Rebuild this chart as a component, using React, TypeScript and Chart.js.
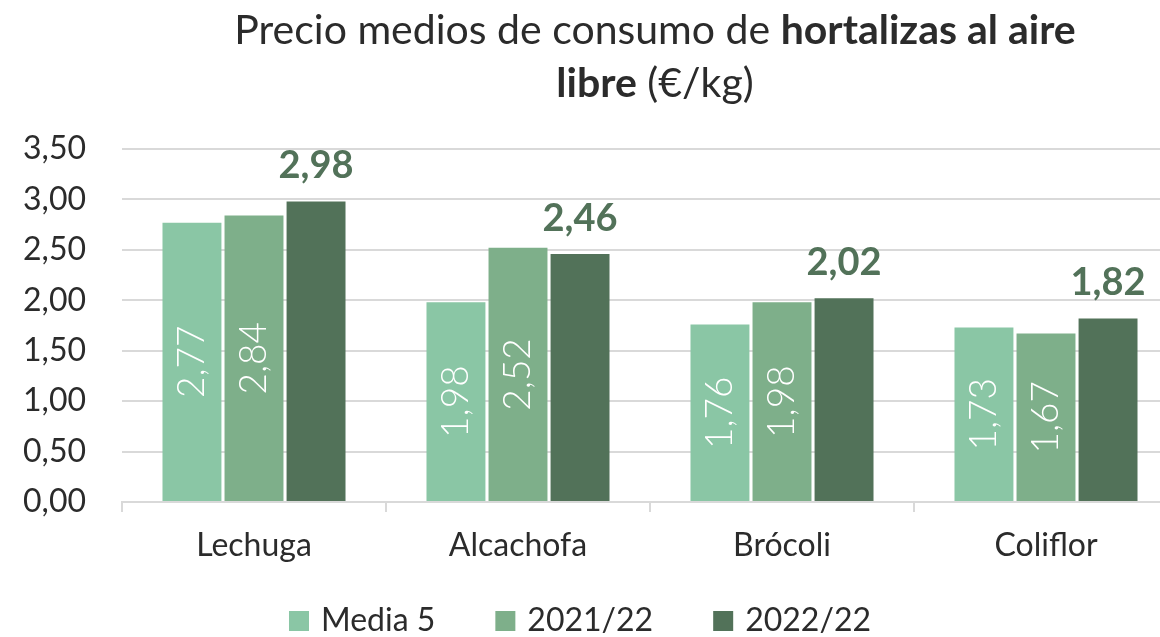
import React, { useEffect, useRef } from "react";
import { Chart, registerables } from "chart.js";

Chart.register(...registerables);

const categories = ["Lechuga", "Alcachofa", "Brócoli", "Coliflor"];
const seriesNames = ["Media 5", "2021/22", "2022/22"];
const media5 = [2.77, 1.98, 1.76, 1.73];
const campaign2122 = [2.84, 2.52, 1.98, 1.67];
const campaign2222 = [2.98, 2.46, 2.02, 1.82];
const colors = ["#8AC6A5", "#7EAF8A", "#527259"];
const yMin = 0;
const yMax = 3.5;
const yStep = 0.5;

const FONT = "Lato";
const TEXT = "#2b2b2b";
const GRID = "#d9d9d9";
const VISIBLE_W = 1160;

const fmt = (v: number) => v.toFixed(2).replace(".", ",");

const titlePlugin = {
  id: "mixedTitle",
  afterDraw(chart: any) {
    const ctx = chart.ctx;
    const cx = (chart.chartArea.left + chart.chartArea.right) / 2 + 5;
    const size = 41;
    const lines = [
      [
        { t: "Precio medios de consumo de ", b: false },
        { t: "hortalizas al aire", b: true },
      ],
      [
        { t: "libre", b: true },
        { t: " (€/kg)", b: false },
      ],
    ];
    const baselines = [44, 97];
    ctx.save();
    ctx.fillStyle = TEXT;
    ctx.textBaseline = "alphabetic";
    ctx.textAlign = "left";
    lines.forEach((parts, i) => {
      let total = 0;
      const widths = parts.map((p) => {
        ctx.font = `${p.b ? "bold " : ""}${size}px ${FONT}`;
        const w = ctx.measureText(p.t).width;
        total += w;
        return w;
      });
      let x = cx - total / 2;
      parts.forEach((p, j) => {
        ctx.font = `${p.b ? "bold " : ""}${size}px ${FONT}`;
        ctx.fillText(p.t, x, baselines[i]);
        x += widths[j];
      });
    });
    ctx.restore();
  },
};

const labelsPlugin = {
  id: "barLabels",
  afterDatasetsDraw(chart: any) {
    const ctx = chart.ctx;
    ctx.save();
    chart.data.datasets.forEach((ds: any, di: number) => {
      const meta = chart.getDatasetMeta(di);
      meta.data.forEach((bar: any, i: number) => {
        const v = ds.data[i] as number;
        const txt = fmt(v);
        if (di < 2) {
          ctx.save();
          ctx.translate(bar.x, (bar.y + bar.base) / 2);
          ctx.rotate(-Math.PI / 2);
          ctx.font = `300 37px ${FONT}`;
          ctx.fillStyle = "#ffffff";
          ctx.textAlign = "center";
          ctx.textBaseline = "middle";
          ctx.fillText(txt, 0, 0);
          ctx.restore();
        } else {
          ctx.font = `bold 38px ${FONT}`;
          ctx.fillStyle = colors[2];
          ctx.textAlign = "center";
          ctx.textBaseline = "alphabetic";
          ctx.fillText(txt, bar.x, bar.y - 23);
        }
      });
    });
    ctx.restore();
  },
};

const legendPlugin = {
  id: "customLegend",
  afterDraw(chart: any) {
    const ctx = chart.ctx;
    const box = 20;
    const gapBoxText = 12;
    const gapItems = 60;
    const cy = 621;
    ctx.save();
    ctx.font = `32px ${FONT}`;
    const widths = seriesNames.map((n) => ctx.measureText(n).width);
    const total =
      widths.reduce((a, b) => a + b, 0) +
      seriesNames.length * (box + gapBoxText) +
      (seriesNames.length - 1) * gapItems;
    let x = VISIBLE_W / 2 - total / 2;
    seriesNames.forEach((n, i) => {
      ctx.fillStyle = colors[i];
      ctx.fillRect(x, cy - box / 2, box, box);
      x += box + gapBoxText;
      ctx.fillStyle = TEXT;
      ctx.textAlign = "left";
      ctx.textBaseline = "middle";
      ctx.fillText(n, x, cy);
      x += widths[i] + gapItems;
    });
    ctx.restore();
  },
};

export default function App() {
  const ref = useRef<HTMLCanvasElement | null>(null);

  useEffect(() => {
    if (!ref.current) return;
    const chart = new Chart(ref.current, {
      type: "bar",
      data: {
        labels: categories,
        datasets: [media5, campaign2122, campaign2222].map((d, i) => ({
          label: seriesNames[i],
          data: d,
          backgroundColor: colors[i],
          borderWidth: 0,
          barPercentage: 0.95,
          categoryPercentage: 0.705,
        })),
      },
      options: {
        animation: false,
        responsive: false,
        devicePixelRatio: 1,
        layout: { padding: { top: 149, bottom: 75, left: 0, right: 2 } },
        plugins: {
          legend: { display: false },
          title: { display: false },
          tooltip: { enabled: false },
        },
        scales: {
          x: {
            afterFit: (s: any) => {
              s.height = 60;
            },
            grid: {
              display: true,
              drawOnChartArea: false,
              drawTicks: true,
              tickLength: 10,
              color: GRID,
              lineWidth: 2,
              offset: true,
            },
            border: { display: true, color: GRID, width: 2 },
            ticks: {
              color: TEXT,
              font: { family: FONT, size: 32 },
              padding: 14,
            },
          },
          y: {
            min: yMin,
            max: yMax,
            afterFit: (s: any) => {
              s.width = 122;
            },
            grid: { color: GRID, lineWidth: 2, drawTicks: false },
            border: { display: false },
            ticks: {
              stepSize: yStep,
              color: TEXT,
              font: { family: FONT, size: 32 },
              padding: 36,
              callback: (v: any) => fmt(Number(v)),
            },
          },
        },
      },
      plugins: [titlePlugin, labelsPlugin, legendPlugin],
    });
    return () => chart.destroy();
  }, []);

  return (
    <div
      style={{
        position: "fixed",
        left: 0,
        top: 0,
        width: VISIBLE_W,
        height: 637,
        overflow: "hidden",
        background: "#ffffff",
      }}
    >
      <canvas ref={ref} width={1180} height={637} style={{ width: 1180, height: 637, display: "block" }} />
    </div>
  );
}
